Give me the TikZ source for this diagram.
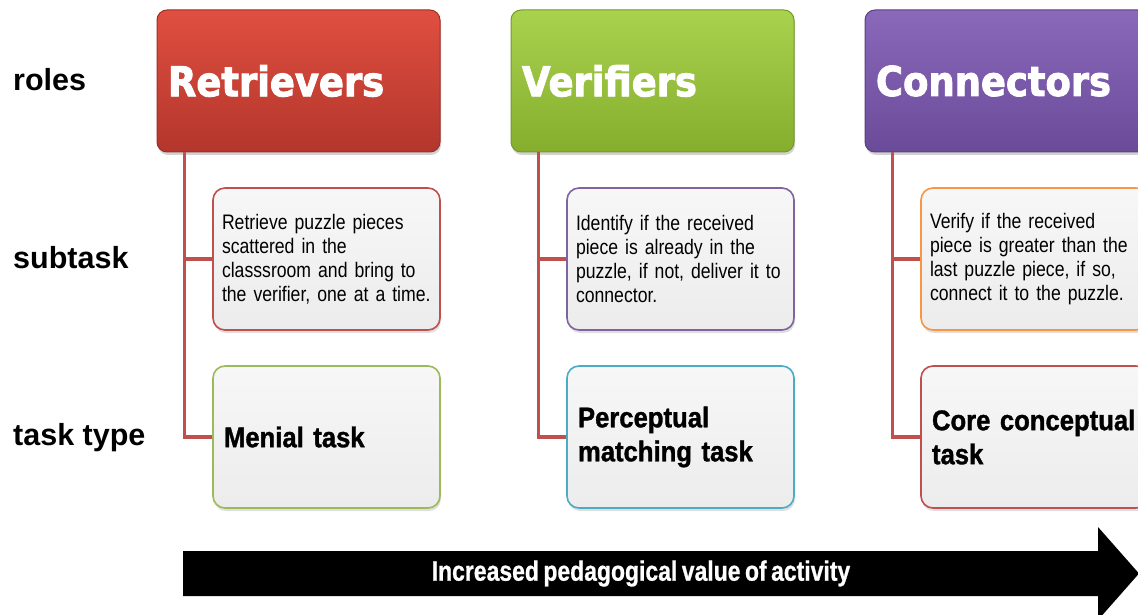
\documentclass[tikz,border=0pt]{standalone}
\usepackage{fontspec}
\setmainfont{Liberation Sans}
\newfontfamily\rolefont{DejaVu Sans}[FakeStretch=0.9, FakeBold=2.2]
\newfontfamily\condfont{Liberation Sans}[FakeStretch=0.84, WordSpace=0.8]
\newfontfamily\semifont{Liberation Sans}[FakeStretch=0.9, FakeBold=1.2, WordSpace=0.85]
\newfontfamily\arrowfont{Liberation Sans}[FakeStretch=0.82, FakeBold=0.8, WordSpace=0.7]
\usetikzlibrary{shadows}

\definecolor{redT}{HTML}{E04F40}
\definecolor{redB}{HTML}{B3362C}
\definecolor{redD}{HTML}{9E2F27}
\definecolor{greenT}{HTML}{A9D24E}
\definecolor{greenB}{HTML}{86AE2E}
\definecolor{greenD}{HTML}{76982A}
\definecolor{purpT}{HTML}{8A68BA}
\definecolor{purpB}{HTML}{6A4B99}
\definecolor{purpD}{HTML}{5B3F85}
\definecolor{lineRed}{HTML}{C0504D}
\definecolor{edgePurple}{HTML}{8064A2}
\definecolor{edgeOrange}{HTML}{F79646}
\definecolor{edgeGreen}{HTML}{9BBB59}
\definecolor{edgeTeal}{HTML}{4BACC6}
\definecolor{paneT}{HTML}{F7F7F7}
\definecolor{paneB}{HTML}{ECECEC}

\tikzset{
  role/.style={rounded corners=10pt, minimum width=283pt, minimum height=142pt,
    text width=261pt, inner xsep=11pt, align=left, line width=1pt,
    text=white, font=\rolefont\bfseries\fontsize{41}{45}\selectfont,
    drop shadow={shadow xshift=1pt, shadow yshift=-3pt, opacity=0.35}},
  pane/.style={rounded corners=12pt, minimum width=227pt, minimum height=142pt,
    inner xsep=9pt, align=left, line width=1.6pt,
    top color=paneT, bottom color=paneB,
    drop shadow={shadow xshift=1pt, shadow yshift=-3pt, opacity=0.25}},
  subtext/.style={pane, text width=209pt, font=\condfont\fontsize{21}{24}\selectfont},
  tasktext/.style={pane, text width=205pt, inner xsep=11pt,
    font=\semifont\bfseries\fontsize{28.5}{34}\selectfont},
  rowlabel/.style={anchor=west, inner sep=0pt, font=\bfseries\fontsize{30.5}{34}\selectfont},
  branch/.style={draw=lineRed, line width=3.2pt},
}

\begin{document}
\begin{tikzpicture}[x=1pt,y=-1pt]
\clip (0,0) rectangle (1138,615);
\fill[white] (0,0) rectangle (1138,615);

% row captions
\node[rowlabel] (lroles) at (13,80) {roles};
\node[rowlabel] (lsub) at (13,258) {subtask};
\node[rowlabel] (ltask) at (13,438) {task type};

% role headers
\node[role, top color=redT, bottom color=redB, draw=redD] (r1) at (298.5,81) {Retrievers};
\node[role, top color=greenT, bottom color=greenB, draw=greenD] (r2) at (652.5,81) {Verifiers};
\node[role, top color=purpT, bottom color=purpB, draw=purpD] (r3) at (1006.5,81) {Connectors};

% subtasks
\node[subtext, draw=lineRed] (s1) at (326.5,259)
  {Retrieve puzzle pieces\\scattered in the\\classsroom and bring to\\the verifier, one at a time.};
\node[subtext, draw=edgePurple] (s2) at (680.5,259)
  {Identify if the received\\piece is already in the\\puzzle, if not, deliver it to\\connector.};
\node[subtext, draw=edgeOrange] (s3) at (1034.5,259)
  {Verify if the received\\piece is greater than the\\last puzzle piece, if so,\\connect it to the puzzle.};

% task types
\node[tasktext, draw=edgeGreen] (t1) at (326.5,437) {Menial task};
\node[tasktext, draw=edgeTeal] (t2) at (680.5,437) {Perceptual\\matching task};
\node[tasktext, draw=lineRed] (t3) at (1034.5,437) {Core conceptual\\task};

% branches from each role to its boxes
\foreach \i in {1,2,3}{
  \coordinate (b\i) at ([xshift=28pt]r\i.south west);
  \draw[branch] (b\i) |- (s\i.west);
  \draw[branch] (b\i) |- (t\i.west);
}

% progression arrow
\fill[black] (183,551) -- (1098,551) -- (1098,527) -- (1139,573.5)
  -- (1098,620) -- (1098,596) -- (183,596) -- cycle;
\node[text=white, font=\arrowfont\bfseries\fontsize{28}{30}\selectfont] (arrowtext) at (641,573.5)
  {Increased pedagogical value of activity};
\end{tikzpicture}
\end{document}
